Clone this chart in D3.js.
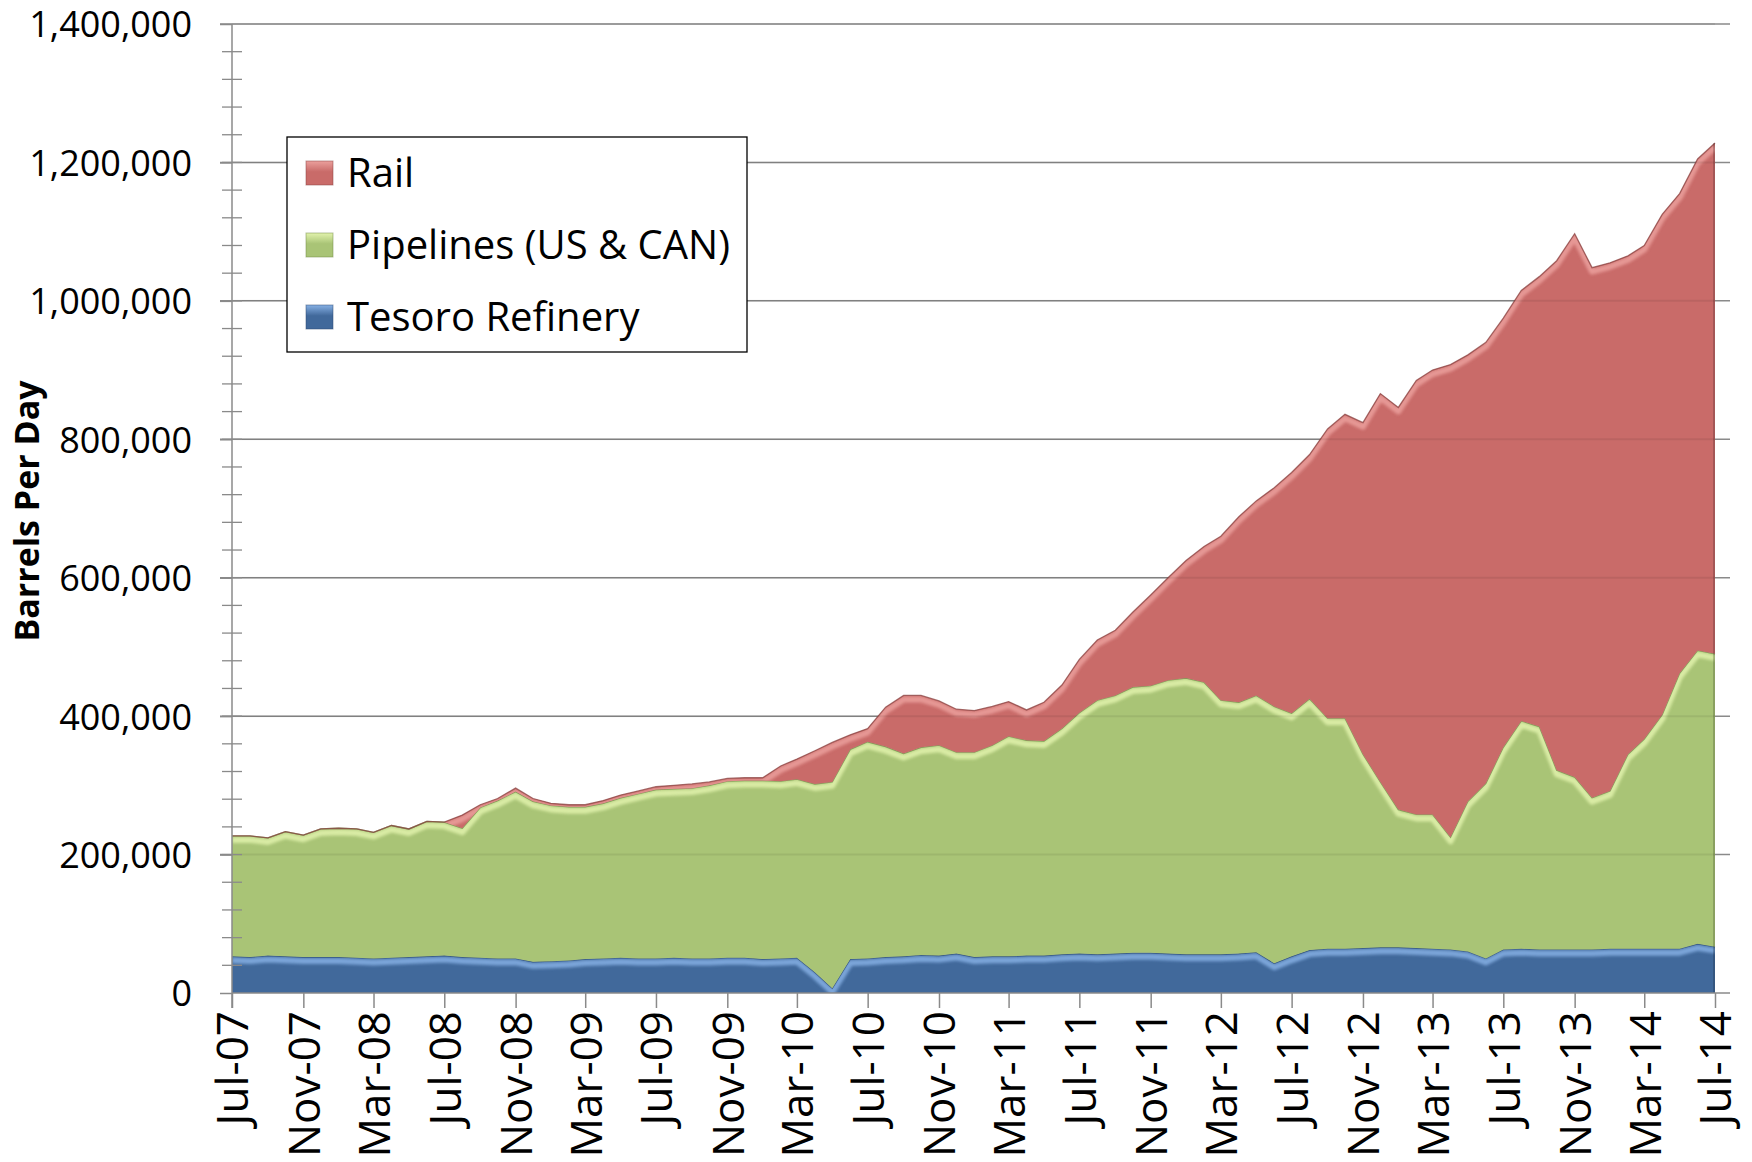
<!DOCTYPE html>
<html>
<head>
<meta charset="utf-8">
<script src="https://cdn.jsdelivr.net/npm/d3@7"></script>
<style>
  body { margin: 0; background: #fff; }
  svg text { font-family: "Open Sans", sans-serif; fill: #000; }
</style>
</head>
<body>
<div id="chart"></div>
<script>
// monthly crude deliveries, Jul-07 .. Jul-14, thousand barrels per day
var firstMonth = new Date(2007, 6, 1);
var lastMonth = new Date(2014, 6, 1);

var tesoro = [53, 52, 54, 53, 52, 52, 52, 51, 50, 51, 52, 53, 54,
  52, 51, 50, 50, 45, 46, 47, 49, 50, 51, 50, 50,
  51, 50, 50, 51, 51, 49, 50, 51, 30, 7, 49, 50,
  52, 53, 55, 54, 57, 52, 53, 53, 54, 54, 56, 57,
  56, 57, 58, 58, 57, 56, 56, 56, 57, 59, 43, 53,
  62, 64, 64, 65, 66, 66, 65, 64, 63, 60, 50, 63,
  64, 63, 63, 63, 63, 64, 64, 64, 64, 64, 71, 67];

var pipelines = [174, 175, 170, 180, 176, 185, 186, 186, 182, 191, 185, 195, 193,
  186, 217, 228, 241, 232, 225, 222, 220, 224, 231, 238, 244,
  244, 246, 250, 255, 256, 258, 256, 258, 272, 298, 303, 313,
  304, 293, 300, 304, 291, 296, 305, 318, 311, 310, 326, 348,
  367, 373, 384, 386, 395, 399, 393, 367, 363, 371, 371, 351,
  363, 333, 333, 280, 239, 199, 193, 194, 162, 217, 253, 292,
  329, 322, 259, 249, 219, 228, 281, 303, 338, 398, 424, 423];

var rail = [0, 0, 0, 0, 0, 0, 0, 0, 0, 0, 0, 0, 0,
  19, 4, 3, 5, 4, 3, 3, 3, 4, 4, 4, 4,
  5, 6, 5, 4, 4, 4, 22, 29, 48, 57, 21, 19,
  57, 84, 75, 64, 62, 60, 56, 50, 44, 56, 63, 77,
  87, 94, 108, 131, 148, 170, 196, 237, 268, 281, 316, 348,
  353, 418, 439, 479, 561, 581, 627, 642, 683, 645, 637, 620,
  622, 650, 736, 785, 766, 763, 720, 713, 723, 693, 710, 738];

var seriesKeys = ["tesoro", "pipelines", "rail"];
var legendNames = ["Rail", "Pipelines (US & CAN)", "Tesoro Refinery"];
var yTickValues = [0, 200000, 400000, 600000, 800000, 1000000, 1200000, 1400000];

var svgWidth = 1752;
var svgHeight = 1162;
var margin = { top: 24, right: 22, bottom: 169, left: 232 };
var chartWidth = svgWidth - margin.left - margin.right;   // plot area, gridlines run this far
var chartHeight = svgHeight - margin.top - margin.bottom;
var dataWidth = 1483;   // Jul-07 .. Jul-14

var colors = {
  tesoro:    { fill: "#41699b", dark: "#2b4a70", light: "#86b0e4" },
  pipelines: { fill: "#a9c476", dark: "#6f8a45", light: "#e2f3ad" },
  rail:      { fill: "#c96b69", dark: "#8a4240", light: "#eba09d" }
};

var months = d3.timeMonth.range(firstMonth, d3.timeMonth.offset(lastMonth, 1));
var rows = months.map(function(m, i) {
  return { date: m, tesoro: tesoro[i] * 1000, pipelines: pipelines[i] * 1000, rail: rail[i] * 1000 };
});

var svg = d3.select("#chart").append("svg")
  .attr("width", svgWidth)
  .attr("height", svgHeight);

var defs = svg.append("defs");
defs.append("filter").attr("id", "soft")
  .attr("x", "-5%").attr("y", "-50%").attr("width", "110%").attr("height", "200%")
  .append("feGaussianBlur").attr("stdDeviation", 1.6);

var chartGroup = svg.append("g")
  .attr("transform", `translate(${margin.left}, ${margin.top})`);

var xScale = d3.scaleTime()
  .domain([firstMonth, lastMonth])
  .range([0, dataWidth]);

var yScale = d3.scaleLinear()
  .domain([0, 1400000])
  .range([chartHeight, 0]);

// gridlines
chartGroup.append("g")
  .selectAll("line")
  .data(yTickValues.slice(1))
  .enter()
  .append("line")
  .attr("x1", -12)
  .attr("x2", chartWidth)
  .attr("y1", d => yScale(d))
  .attr("y2", d => yScale(d))
  .attr("stroke", "#8a8a8a")
  .attr("stroke-width", 1.5);

// stacked areas
var stacked = d3.stack().keys(seriesKeys)(rows);

var area = d3.area()
  .x(d => xScale(d.data.date))
  .y0(d => yScale(d[0]))
  .y1(d => yScale(d[1]));

var topLine = d3.line()
  .x(d => xScale(d.data.date))
  .y(d => yScale(d[1]));

stacked.forEach(function(layer) {
  var c = colors[layer.key];
  defs.append("clipPath").attr("id", "clip-" + layer.key)
    .append("path").attr("d", area(layer));

  chartGroup.append("path")
    .attr("d", area(layer))
    .attr("fill", c.fill);

  // bevel highlight just under the top edge
  chartGroup.append("g")
    .attr("clip-path", `url(#clip-${layer.key})`)
    .append("path")
    .attr("d", topLine(layer))
    .attr("transform", "translate(0, 4)")
    .attr("fill", "none")
    .attr("stroke", c.light)
    .attr("stroke-width", 6)
    .attr("stroke-linejoin", "round")
    .attr("opacity", 0.85)
    .attr("filter", "url(#soft)");

  chartGroup.append("path")
    .attr("d", topLine(layer))
    .attr("fill", "none")
    .attr("stroke", c.dark)
    .attr("stroke-width", 1.3)
    .attr("opacity", 0.75);
});

// right edge shadow
var lastRow = stacked[stacked.length - 1];
chartGroup.append("line")
  .attr("x1", dataWidth - 1)
  .attr("x2", dataWidth - 1)
  .attr("y1", yScale(lastRow[lastRow.length - 1][1]))
  .attr("y2", chartHeight)
  .attr("stroke", "#000")
  .attr("stroke-opacity", 0.18)
  .attr("stroke-width", 2);

// gridlines show faintly through the fill
chartGroup.append("g")
  .selectAll("line")
  .data(yTickValues.slice(1))
  .enter()
  .append("line")
  .attr("x1", 0)
  .attr("x2", dataWidth)
  .attr("y1", d => yScale(d))
  .attr("y2", d => yScale(d))
  .attr("stroke", "#000")
  .attr("stroke-opacity", 0.07)
  .attr("stroke-width", 2);

// y axis
var leftAxis = d3.axisLeft(yScale)
  .tickValues(yTickValues)
  .tickSize(12)
  .tickPadding(28)
  .tickFormat(d3.format(","));

var yAxisG = chartGroup.append("g").call(leftAxis);
yAxisG.select(".domain").remove();
yAxisG.selectAll("line").attr("stroke", "#8a8a8a").attr("stroke-width", 1.5);
yAxisG.selectAll("text").attr("font-size", "36px").attr("dy", "0.36em");

chartGroup.append("line")
  .attr("x1", 0).attr("x2", 0)
  .attr("y1", 0).attr("y2", chartHeight + 15)
  .attr("stroke", "#8a8a8a")
  .attr("stroke-width", 1.5);

// minor ticks, crossing the axis
chartGroup.append("g")
  .selectAll("line")
  .data(d3.range(40000, 1400000, 40000))
  .enter()
  .append("line")
  .attr("x1", -10)
  .attr("x2", 10)
  .attr("y1", d => yScale(d))
  .attr("y2", d => yScale(d))
  .attr("stroke", "#8a8a8a")
  .attr("stroke-width", 1.3);

// x axis
var xTickValues = months.filter((m, i) => i % 4 === 0);
var bottomAxis = d3.axisBottom(xScale)
  .tickValues(xTickValues)
  .tickSize(15)
  .tickFormat(d3.timeFormat("%b-%y"));

var xAxisG = chartGroup.append("g")
  .attr("transform", `translate(0, ${chartHeight})`)
  .call(bottomAxis);
xAxisG.select(".domain").remove();
xAxisG.selectAll("line").attr("stroke", "#8a8a8a").attr("stroke-width", 1.5);
xAxisG.selectAll("text")
  .attr("font-size", "44px")
  .attr("transform", "rotate(-90)")
  .attr("x", -18)
  .attr("y", 0)
  .attr("dy", "0.36em")
  .style("text-anchor", "end");

chartGroup.append("line")
  .attr("x1", 0).attr("x2", chartWidth)
  .attr("y1", chartHeight).attr("y2", chartHeight)
  .attr("stroke", "#8a8a8a")
  .attr("stroke-width", 1.5);

// y axis title
svg.append("text")
  .attr("transform", "translate(39, 511) rotate(-90)")
  .attr("text-anchor", "middle")
  .attr("font-size", "34px")
  .attr("font-weight", 700)
  .text("Barrels Per Day");

// legend
var legend = svg.append("g").attr("transform", "translate(287, 137)");
legend.append("rect")
  .attr("width", 460)
  .attr("height", 215)
  .attr("fill", "#fff")
  .attr("stroke", "#000")
  .attr("stroke-width", 1.3);

var legendKeys = ["rail", "pipelines", "tesoro"];
legendKeys.forEach(function(k) {
  var g = defs.append("linearGradient").attr("id", "sw-" + k)
    .attr("x1", 0).attr("y1", 0).attr("x2", 0).attr("y2", 1);
  g.append("stop").attr("offset", "0%").attr("stop-color", colors[k].light);
  g.append("stop").attr("offset", "45%").attr("stop-color", colors[k].fill);
  g.append("stop").attr("offset", "100%").attr("stop-color", colors[k].fill);
});

var items = legend.selectAll(".item")
  .data(legendNames)
  .enter()
  .append("g")
  .attr("transform", (d, i) => `translate(19, ${36 + i * 72})`);

items.append("rect")
  .attr("x", 0)
  .attr("y", -12)
  .attr("width", 27)
  .attr("height", 24)
  .attr("fill", (d, i) => `url(#sw-${legendKeys[i]})`)
  .attr("stroke", (d, i) => colors[legendKeys[i]].dark)
  .attr("stroke-opacity", 0.5);

items.append("text")
  .attr("x", 41)
  .attr("dy", "0.36em")
  .attr("font-size", "40px")
  .text(d => d);
</script>
</body>
</html>
